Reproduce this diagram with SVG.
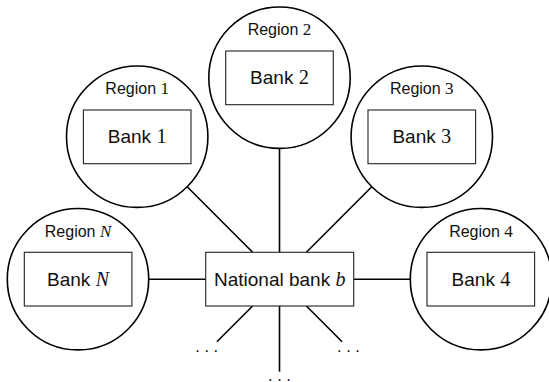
<svg xmlns="http://www.w3.org/2000/svg" width="549" height="382" viewBox="0 0 549 382">
<style>
.reg{fill:none;stroke:#000;stroke-width:1.6}
.box{fill:#fff;stroke:#222;stroke-width:1.1}
.lbl{font-family:"Liberation Sans",Arial,sans-serif;font-size:16px;fill:#111;text-anchor:middle}
.bk{font-family:"Liberation Sans",Arial,sans-serif;font-size:19px;fill:#111;text-anchor:middle}
.m{font-family:"Liberation Serif","Times New Roman",serif;font-size:1.07em}
.mi{font-family:"Liberation Serif","Times New Roman",serif;font-style:italic;font-size:1.05em}
.dots{font-family:"Liberation Sans",Arial,sans-serif;font-size:16.5px;fill:#111;text-anchor:middle}
.con{stroke:#000;stroke-width:1.6;fill:none}
</style>
<rect width="549" height="382" fill="#fff"/>
<g id="connectors">
<line class="con" x1="148.7" y1="279.2" x2="205.7" y2="279.2"/>
<line class="con" x1="410.3" y1="279.2" x2="353.7" y2="279.2"/>
<line class="con" x1="279.5" y1="148.4" x2="279.5" y2="252.3"/>
<line class="con" x1="187.2" y1="186.7" x2="252.6" y2="252.3"/>
<line class="con" x1="371.8" y1="186.7" x2="306.4" y2="252.3"/>
<line class="con" x1="279.5" y1="306" x2="279.5" y2="371.7"/>
<line class="con" x1="252.6" y1="306" x2="216.9" y2="341.8"/>
<line class="con" x1="306.4" y1="306" x2="342.1" y2="341.8"/>
</g>
<g id="region2">
<circle class="reg" cx="279.5" cy="77.7" r="70.7"/>
<text class="lbl" x="279.5" y="34.7">Region <tspan class="m">2</tspan></text>
<rect class="box" x="225.7" y="51" width="107.6" height="53.7"/>
<text class="bk" x="279.5" y="84.2">Bank <tspan class="m">2</tspan></text>
</g>
<g id="region1">
<circle class="reg" cx="137.2" cy="136.7" r="70.7"/>
<text class="lbl" x="137.2" y="94.3">Region <tspan class="m">1</tspan></text>
<rect class="box" x="83.4" y="110" width="107.6" height="53.7"/>
<text class="bk" x="137.2" y="143.3">Bank <tspan class="m">1</tspan></text>
</g>
<g id="region3">
<circle class="reg" cx="421.8" cy="136.7" r="70.7"/>
<text class="lbl" x="421.8" y="94.3">Region <tspan class="m">3</tspan></text>
<rect class="box" x="368" y="110" width="107.6" height="53.7"/>
<text class="bk" x="421.8" y="143.3">Bank <tspan class="m">3</tspan></text>
</g>
<g id="regionN">
<circle class="reg" cx="78" cy="279.2" r="70.7"/>
<text class="lbl" x="78" y="236.7">Region <tspan class="mi">N</tspan></text>
<rect class="box" x="24.3" y="252.3" width="107.6" height="53.7"/>
<text class="bk" x="78" y="286">Bank <tspan class="mi">N</tspan></text>
</g>
<g id="region4">
<circle class="reg" cx="481" cy="279.2" r="70.7"/>
<text class="lbl" x="481" y="236.7">Region <tspan class="m">4</tspan></text>
<rect class="box" x="427" y="252.3" width="107.6" height="53.7"/>
<text class="bk" x="481" y="286">Bank <tspan class="m">4</tspan></text>
</g>
<g id="national">
<rect class="box" x="205.7" y="252.3" width="148" height="53.7"/>
<text class="bk" x="279.7" y="285.8">National bank <tspan class="mi">b</tspan></text>
</g>
<g id="dots">
<text class="dots" x="206.7" y="351.5">. . .</text>
<text class="dots" x="348.5" y="351.5">. . .</text>
<text class="dots" x="279.5" y="380.5">. . .</text>
</g>
</svg>
